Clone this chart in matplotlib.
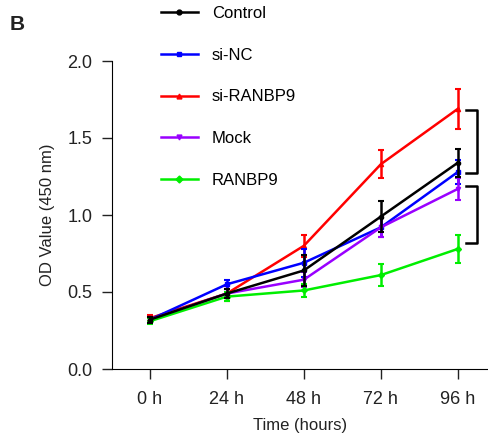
import matplotlib
matplotlib.use("Agg")
import matplotlib.pyplot as plt
from matplotlib.lines import Line2D

plt.rcParams['font.family'] = ['Liberation Sans', 'DejaVu Sans']

# data
times = ['0 h', '24 h', '48 h', '72 h', '96 h']
control = [0.32, 0.49, 0.64, 0.99, 1.34]
control_err = [0.02, 0.03, 0.10, 0.10, 0.09]
si_nc = [0.32, 0.55, 0.69, 0.92, 1.28]
si_nc_err = [0.02, 0.03, 0.09, 0.06, 0.08]
si_ranbp9 = [0.33, 0.49, 0.80, 1.33, 1.69]
si_ranbp9_err = [0.02, 0.05, 0.07, 0.09, 0.13]
mock = [0.32, 0.49, 0.58, 0.92, 1.17]
mock_err = [0.02, 0.03, 0.05, 0.06, 0.07]
ranbp9 = [0.31, 0.47, 0.51, 0.61, 0.78]
ranbp9_err = [0.02, 0.03, 0.04, 0.07, 0.09]

series = [
    ('si-RANBP9', si_ranbp9, si_ranbp9_err, '#ff0000', '^', 2),
    ('si-NC', si_nc, si_nc_err, '#0000ff', 's', 3),
    ('Mock', mock, mock_err, '#9900ff', 'v', 3),
    ('RANBP9', ranbp9, ranbp9_err, '#00ee00', 'D', 4),
    ('Control', control, control_err, '#000000', 'o', 5),
]
legend_order = ['Control', 'si-NC', 'si-RANBP9', 'Mock', 'RANBP9']

fig = plt.figure(figsize=(4.88, 4.45), dpi=100)
ax = fig.add_axes([112/488, 76/445, 376/488, 308/445])

x = list(range(len(times)))
handles = {}
for name, vals, errs, col, mk, z in series:
    ax.errorbar(x, vals, yerr=errs, color=col, marker=mk, markersize=3,
                linewidth=1.8, elinewidth=1.8, capsize=2.5, capthick=1.5,
                zorder=z, clip_on=False)
    handles[name] = Line2D([], [], color=col, marker=mk, markersize=3.5, linewidth=1.8)

# significance brackets
ax.plot([4.10, 4.25, 4.25, 4.10], [1.68, 1.68, 1.27, 1.27], color='black', lw=1.8, clip_on=False)
ax.plot([4.10, 4.25, 4.25, 4.10], [1.19, 1.19, 0.82, 0.82], color='black', lw=1.8, clip_on=False)

ax.set_xlim(-0.49, 4.39)
ax.set_ylim(0, 2.0)
ax.set_xticks(x)
ax.set_xticklabels(times)
ax.set_yticks([0.0, 0.5, 1.0, 1.5, 2.0])
ax.set_yticklabels(['0.0', '0.5', '1.0', '1.5', '2.0'])
ax.tick_params(labelsize=13, length=7, width=1, color='#222222', labelcolor='#222222')
ax.tick_params(axis='x', pad=9)
ax.tick_params(axis='y', pad=7)
ax.spines['top'].set_visible(False)
ax.spines['right'].set_visible(False)
ax.set_xlabel('Time (hours)', fontsize=12, color='#222222', labelpad=7)
ax.set_ylabel('OD Value (450 nm)', fontsize=12, color='#222222', labelpad=9)

fig.legend([handles[n] for n in legend_order], legend_order,
           loc='upper left', bbox_to_anchor=(161/488, 1 - 6/445), frameon=False,
           fontsize=12, handlelength=2.2, handletextpad=0.85, labelspacing=1.6,
           borderpad=0, borderaxespad=0)

fig.text(10/488, 1 - 30/445, 'B', fontsize=15, fontweight='bold', color='#222222')

fig.savefig('out.png', dpi=100)
